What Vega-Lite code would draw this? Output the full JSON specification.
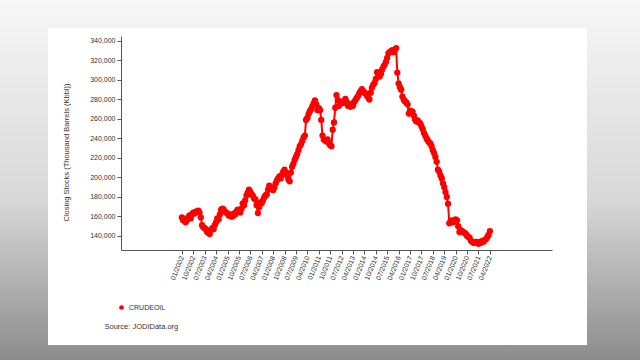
{
  "$schema": "https://vega.github.io/schema/vega-lite/v6.json",
  "width": 431,
  "height": 214,
  "autosize": {"type": "none"},
  "padding": {"left": 121, "top": 36, "right": 88, "bottom": 110},
  "background": "#dedede",
  "config": {
    "view": {"stroke": null},
    "font": "Liberation Sans",
    "axis": {"labelFont": "Liberation Sans", "titleFont": "Liberation Sans", "labelColor": "#333", "titleColor": "#333", "domainColor": "#555", "tickColor": "#555", "grid": false}
  },
  "data": {"values": [
    {"d":"2002-01-01","v":159000},{"d":"2002-02-01","v":156000},{"d":"2002-03-01","v":157000},{"d":"2002-04-01","v":154000},{"d":"2002-05-01","v":156000},{"d":"2002-06-01","v":159000},{"d":"2002-07-01","v":161000},{"d":"2002-08-01","v":158000},{"d":"2002-09-01","v":162000},{"d":"2002-10-01","v":164000},{"d":"2002-11-01","v":163000},{"d":"2002-12-01","v":165000},
    {"d":"2003-01-01","v":165000},{"d":"2003-02-01","v":166000},{"d":"2003-03-01","v":164000},{"d":"2003-04-01","v":159000},{"d":"2003-05-01","v":151000},{"d":"2003-06-01","v":149000},{"d":"2003-07-01","v":148000},{"d":"2003-08-01","v":147000},{"d":"2003-09-01","v":144000},{"d":"2003-10-01","v":143000},{"d":"2003-11-01","v":142000},{"d":"2003-12-01","v":146000},
    {"d":"2004-01-01","v":148000},{"d":"2004-02-01","v":147000},{"d":"2004-03-01","v":151000},{"d":"2004-04-01","v":154000},{"d":"2004-05-01","v":158000},{"d":"2004-06-01","v":157000},{"d":"2004-07-01","v":162000},{"d":"2004-08-01","v":167000},{"d":"2004-09-01","v":168000},{"d":"2004-10-01","v":167000},{"d":"2004-11-01","v":165000},{"d":"2004-12-01","v":164000},
    {"d":"2005-01-01","v":163000},{"d":"2005-02-01","v":161000},{"d":"2005-03-01","v":162000},{"d":"2005-04-01","v":160000},{"d":"2005-05-01","v":160000},{"d":"2005-06-01","v":163000},{"d":"2005-07-01","v":162000},{"d":"2005-08-01","v":165000},{"d":"2005-09-01","v":167000},{"d":"2005-10-01","v":166000},{"d":"2005-11-01","v":164000},{"d":"2005-12-01","v":168000},
    {"d":"2006-01-01","v":173500},{"d":"2006-02-01","v":171500},{"d":"2006-03-01","v":176500},{"d":"2006-04-01","v":181500},{"d":"2006-05-01","v":184500},{"d":"2006-06-01","v":187500},{"d":"2006-07-01","v":185500},{"d":"2006-08-01","v":182500},{"d":"2006-09-01","v":181500},{"d":"2006-10-01","v":178500},{"d":"2006-11-01","v":177500},{"d":"2006-12-01","v":171500},
    {"d":"2007-01-01","v":163500},{"d":"2007-02-01","v":169500},{"d":"2007-03-01","v":174500},{"d":"2007-04-01","v":173500},{"d":"2007-05-01","v":176500},{"d":"2007-06-01","v":179500},{"d":"2007-07-01","v":181500},{"d":"2007-08-01","v":182500},{"d":"2007-09-01","v":187500},{"d":"2007-10-01","v":191500},{"d":"2007-11-01","v":189500},{"d":"2007-12-01","v":188500},
    {"d":"2008-01-01","v":187000},{"d":"2008-02-01","v":190000},{"d":"2008-03-01","v":194000},{"d":"2008-04-01","v":197000},{"d":"2008-05-01","v":199000},{"d":"2008-06-01","v":201000},{"d":"2008-07-01","v":199000},{"d":"2008-08-01","v":203000},{"d":"2008-09-01","v":206000},{"d":"2008-10-01","v":208000},{"d":"2008-11-01","v":205000},{"d":"2008-12-01","v":202000},
    {"d":"2009-01-01","v":198000},{"d":"2009-02-01","v":196000},{"d":"2009-03-01","v":205000},{"d":"2009-04-01","v":211000},{"d":"2009-05-01","v":214000},{"d":"2009-06-01","v":218000},{"d":"2009-07-01","v":221000},{"d":"2009-08-01","v":224000},{"d":"2009-09-01","v":228000},{"d":"2009-10-01","v":232000},{"d":"2009-11-01","v":234000},{"d":"2009-12-01","v":237500},
    {"d":"2010-01-01","v":241000},{"d":"2010-02-01","v":243000},{"d":"2010-03-01","v":259000},{"d":"2010-04-01","v":261000},{"d":"2010-05-01","v":265000},{"d":"2010-06-01","v":268000},{"d":"2010-07-01","v":270000},{"d":"2010-08-01","v":273000},{"d":"2010-09-01","v":276000},{"d":"2010-10-01","v":279000},{"d":"2010-11-01","v":275000},{"d":"2010-12-01","v":269000},
    {"d":"2011-01-01","v":271000},{"d":"2011-02-01","v":269000},{"d":"2011-03-01","v":259000},{"d":"2011-04-01","v":243000},{"d":"2011-05-01","v":239000},{"d":"2011-06-01","v":238000},{"d":"2011-07-01","v":237000},{"d":"2011-08-01","v":239000},{"d":"2011-09-01","v":235000},{"d":"2011-10-01","v":233000},{"d":"2011-11-01","v":232000},{"d":"2011-12-01","v":249000},
    {"d":"2012-01-01","v":256500},{"d":"2012-02-01","v":271500},{"d":"2012-03-01","v":284500},{"d":"2012-04-01","v":279500},{"d":"2012-05-01","v":273500},{"d":"2012-06-01","v":275500},{"d":"2012-07-01","v":277500},{"d":"2012-08-01","v":276500},{"d":"2012-09-01","v":278500},{"d":"2012-10-01","v":280500},{"d":"2012-11-01","v":277500},{"d":"2012-12-01","v":273500},
    {"d":"2013-01-01","v":274500},{"d":"2013-02-01","v":272500},{"d":"2013-03-01","v":275500},{"d":"2013-04-01","v":273500},{"d":"2013-05-01","v":277500},{"d":"2013-06-01","v":279500},{"d":"2013-07-01","v":281500},{"d":"2013-08-01","v":283500},{"d":"2013-09-01","v":286500},{"d":"2013-10-01","v":288500},{"d":"2013-11-01","v":290500},{"d":"2013-12-01","v":288500},
    {"d":"2014-01-01","v":287000},{"d":"2014-02-01","v":286000},{"d":"2014-03-01","v":284000},{"d":"2014-04-01","v":282000},{"d":"2014-05-01","v":280000},{"d":"2014-06-01","v":287000},{"d":"2014-07-01","v":292000},{"d":"2014-08-01","v":295000},{"d":"2014-09-01","v":297000},{"d":"2014-10-01","v":301000},{"d":"2014-11-01","v":308000},{"d":"2014-12-01","v":305000},
    {"d":"2015-01-01","v":303500},{"d":"2015-02-01","v":306500},{"d":"2015-03-01","v":310500},{"d":"2015-04-01","v":313500},{"d":"2015-05-01","v":315500},{"d":"2015-06-01","v":318500},{"d":"2015-07-01","v":322500},{"d":"2015-08-01","v":327500},{"d":"2015-09-01","v":328500},{"d":"2015-10-01","v":329500},{"d":"2015-11-01","v":330500},{"d":"2015-12-01","v":328500},
    {"d":"2016-01-01","v":330500},{"d":"2016-02-01","v":332500},{"d":"2016-03-01","v":307500},{"d":"2016-04-01","v":296500},{"d":"2016-05-01","v":292500},{"d":"2016-06-01","v":290000},{"d":"2016-07-01","v":283000},{"d":"2016-08-01","v":280000},{"d":"2016-09-01","v":278000},{"d":"2016-10-01","v":277000},{"d":"2016-11-01","v":275000},{"d":"2016-12-01","v":265500},
    {"d":"2017-01-01","v":268500},{"d":"2017-02-01","v":267500},{"d":"2017-03-01","v":267500},{"d":"2017-04-01","v":263500},{"d":"2017-05-01","v":259500},{"d":"2017-06-01","v":257500},{"d":"2017-07-01","v":258500},{"d":"2017-08-01","v":256500},{"d":"2017-09-01","v":255500},{"d":"2017-10-01","v":252500},{"d":"2017-11-01","v":249500},{"d":"2017-12-01","v":245500},
    {"d":"2018-01-01","v":243000},{"d":"2018-02-01","v":240000},{"d":"2018-03-01","v":238000},{"d":"2018-04-01","v":236000},{"d":"2018-05-01","v":235000},{"d":"2018-06-01","v":232000},{"d":"2018-07-01","v":228000},{"d":"2018-08-01","v":225000},{"d":"2018-09-01","v":221000},{"d":"2018-10-01","v":216000},{"d":"2018-11-01","v":208000},{"d":"2018-12-01","v":206000},
    {"d":"2019-01-01","v":202000},{"d":"2019-02-01","v":199000},{"d":"2019-03-01","v":194000},{"d":"2019-04-01","v":190000},{"d":"2019-05-01","v":185000},{"d":"2019-06-01","v":180000},{"d":"2019-07-01","v":173000},{"d":"2019-08-01","v":153000},{"d":"2019-09-01","v":155000},{"d":"2019-10-01","v":156000},{"d":"2019-11-01","v":154000},{"d":"2019-12-01","v":155000},
    {"d":"2020-01-01","v":157000},{"d":"2020-02-01","v":156000},{"d":"2020-03-01","v":150000},{"d":"2020-04-01","v":144000},{"d":"2020-05-01","v":146000},{"d":"2020-06-01","v":145000},{"d":"2020-07-01","v":144000},{"d":"2020-08-01","v":143000},{"d":"2020-09-01","v":142000},{"d":"2020-10-01","v":140000},{"d":"2020-11-01","v":139000},{"d":"2020-12-01","v":138000},
    {"d":"2021-01-01","v":135000},{"d":"2021-02-01","v":134000},{"d":"2021-03-01","v":133000},{"d":"2021-04-01","v":133000},{"d":"2021-05-01","v":134000},{"d":"2021-06-01","v":133000},{"d":"2021-07-01","v":132000},{"d":"2021-08-01","v":134000},{"d":"2021-09-01","v":133000},{"d":"2021-10-01","v":135000},{"d":"2021-11-01","v":134000},{"d":"2021-12-01","v":136000},
    {"d":"2022-01-01","v":137000},{"d":"2022-02-01","v":139000},{"d":"2022-03-01","v":141000},{"d":"2022-04-01","v":145000}
  ]},
  "encoding": {
    "x": {"field": "d", "type": "temporal", "scale": {"type": "utc", "domain": [{"year": 1998, "month": 1, "date": 1, "utc": true}, {"year": 2026, "month": 5, "date": 1, "utc": true}]},
      "axis": {"zindex": 2, "values": [
        {"year":2002,"month":1,"date":1,"utc":true},{"year":2002,"month":10,"date":1,"utc":true},{"year":2003,"month":7,"date":1,"utc":true},{"year":2004,"month":4,"date":1,"utc":true},
        {"year":2005,"month":1,"date":1,"utc":true},{"year":2005,"month":10,"date":1,"utc":true},{"year":2006,"month":7,"date":1,"utc":true},{"year":2007,"month":4,"date":1,"utc":true},
        {"year":2008,"month":1,"date":1,"utc":true},{"year":2008,"month":10,"date":1,"utc":true},{"year":2009,"month":7,"date":1,"utc":true},{"year":2010,"month":4,"date":1,"utc":true},
        {"year":2011,"month":1,"date":1,"utc":true},{"year":2011,"month":10,"date":1,"utc":true},{"year":2012,"month":7,"date":1,"utc":true},{"year":2013,"month":4,"date":1,"utc":true},
        {"year":2014,"month":1,"date":1,"utc":true},{"year":2014,"month":10,"date":1,"utc":true},{"year":2015,"month":7,"date":1,"utc":true},{"year":2016,"month":4,"date":1,"utc":true},
        {"year":2017,"month":1,"date":1,"utc":true},{"year":2017,"month":10,"date":1,"utc":true},{"year":2018,"month":7,"date":1,"utc":true},{"year":2019,"month":4,"date":1,"utc":true},
        {"year":2020,"month":1,"date":1,"utc":true},{"year":2020,"month":10,"date":1,"utc":true},{"year":2021,"month":7,"date":1,"utc":true},{"year":2022,"month":4,"date":1,"utc":true}],
        "format": "%m/%Y", "labelAngle": -68, "labelFontSize": 7, "labelPadding": 2, "tickSize": 4, "labelOverlap": false, "labelFlush": false,
        "title": "Source: JODIData.org", "titleFontSize": 7.5, "titleFontWeight": "normal", "titleX": -17, "titleY": 76, "titleAlign": "left", "titleBaseline": "middle"}},
    "y": {"field": "v", "type": "quantitative", "scale": {"domain": [125600, 345100], "zero": false, "nice": false},
      "axis": {"zindex": 2, "values": [140000,160000,180000,200000,220000,240000,260000,280000,300000,320000,340000], "format": ",.0f", "labelFontSize": 7, "tickSize": 4, "labelPadding": 2,
        "title": "Closing Stocks (Thousand Barrels (Kbbl))", "titleFontSize": 7.5, "titleFontWeight": "normal", "titleX": -55, "titleY": 116, "titleAlign": "center", "titleBaseline": "middle", "titleAngle": -90}}
  },
  "layer": [
    {
      "mark": {"type": "rect", "clip": false, "fill": {"gradient": "linear", "x1": 0, "y1": 0, "x2": 0, "y2": 1, "stops": [{"offset": 0, "color": "#f7f7f7"}, {"offset": 0.55, "color": "#d8d8d8"}, {"offset": 1, "color": "#8c8c8c"}]}},
      "encoding": {
        "x": {"datum": {"year": 1990, "month": 1, "date": 20, "utc": true}, "type": "temporal"},
        "x2": {"datum": {"year": 2032, "month": 3, "date": 1, "utc": true}},
        "y": {"datum": 382000, "type": "quantitative"},
        "y2": {"datum": 12000}
      }
    },
    {
      "mark": {"type": "rect", "clip": false, "fill": "white"},
      "encoding": {
        "x": {"datum": {"year": 1993, "month": 3, "date": 20, "utc": true}, "type": "temporal"},
        "x2": {"datum": {"year": 2028, "month": 8, "date": 18, "utc": true}},
        "y": {"datum": 353300, "type": "quantitative"},
        "y2": {"datum": 28200}
      }
    },
    {
      "mark": {"type": "line", "color": "#ff0000", "strokeWidth": 2}
    },
    {
      "mark": {"type": "point", "filled": true, "opacity": 1, "size": 40},
      "encoding": {
        "color": {"datum": "CRUDEOIL", "scale": {"range": ["#ff0000"]},
          "legend": {"zindex": 2, "orient": "none", "legendX": -3, "legendY": 268, "title": null, "padding": 0, "symbolSize": 22, "symbolType": "circle", "labelFontSize": 7, "labelColor": "#333", "labelOffset": 4}}
      }
    },
    {
      "transform": [{"filter": "datum.d == '2016-02-01'"}],
      "mark": {"type": "point", "filled": true, "size": 80, "color": "#ff9a9a", "opacity": 0.8}
    }
  ]
}
